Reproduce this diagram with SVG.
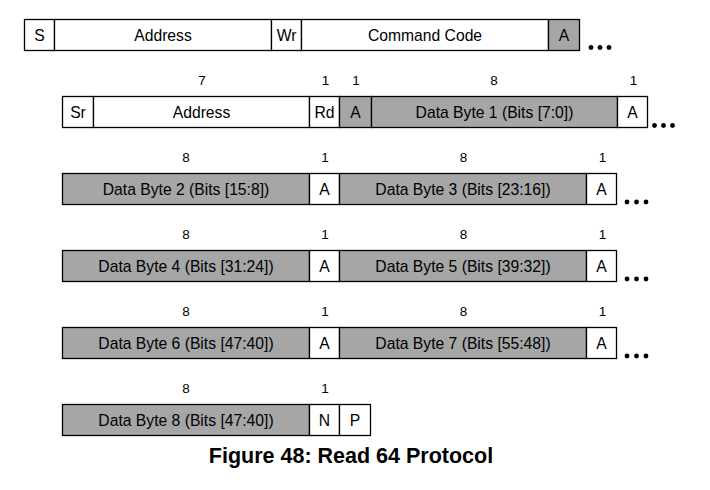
<svg xmlns="http://www.w3.org/2000/svg" width="710" height="490" viewBox="0 0 710 490">
<style>
rect{stroke:#000;stroke-width:1.3}
.w{fill:#fff}
.g{fill:#a6a6a6}
text{font-family:"Liberation Sans",Arial,sans-serif;fill:#000;text-anchor:middle}
.t{font-size:15.7px}
.n{font-size:13.5px}
.title{font-size:21.5px;font-weight:bold}
.dot{fill:#000}
</style>
<rect width="710" height="490" fill="#fff" style="stroke:none"/>
<g id="row1">
<g id="r1-s"><rect class="w" x="24.5" y="19.5" width="30" height="31"/><text class="t" x="39.5" y="40.5">S</text></g>
<g id="r1-addr"><rect class="w" x="54.5" y="19.5" width="217" height="31"/><text class="t" x="163" y="40.5">Address</text></g>
<g id="r1-wr"><rect class="w" x="271.5" y="19.5" width="30" height="31"/><text class="t" x="286.5" y="40.5">Wr</text></g>
<g id="r1-cc"><rect class="w" x="301.5" y="19.5" width="247" height="31"/><text class="t" x="425" y="40.5">Command Code</text></g>
<g id="r1-a"><rect class="g" x="548.5" y="19.5" width="31" height="31"/><text class="t" x="564" y="40.5">A</text></g>
<g id="r1-dots"><circle class="dot" cx="591" cy="47.5" r="2.4"/><circle class="dot" cx="600" cy="47.5" r="2.4"/><circle class="dot" cx="609" cy="47.5" r="2.4"/></g>
</g>
<g id="row2">
<text class="n" x="202" y="85">7</text><text class="n" x="325.5" y="85">1</text><text class="n" x="356" y="85">1</text><text class="n" x="494" y="85">8</text><text class="n" x="633.5" y="85">1</text>
<g id="r2-sr"><rect class="w" x="62.5" y="96.5" width="31" height="31"/><text class="t" x="78" y="117.5">Sr</text></g>
<g id="r2-addr"><rect class="w" x="93.5" y="96.5" width="216" height="31"/><text class="t" x="201.5" y="117.5">Address</text></g>
<g id="r2-rd"><rect class="w" x="309.5" y="96.5" width="30" height="31"/><text class="t" x="324.5" y="117.5">Rd</text></g>
<g id="r2-a"><rect class="g" x="339.5" y="96.5" width="32" height="31"/><text class="t" x="355.5" y="117.5">A</text></g>
<g id="r2-db1"><rect class="g" x="371.5" y="96.5" width="246" height="31"/><text class="t" x="494.5" y="117.5">Data Byte 1 (Bits [7:0])</text></g>
<g id="r2-a2"><rect class="w" x="617.5" y="96.5" width="30" height="31"/><text class="t" x="632.5" y="117.5">A</text></g>
<g id="r2-dots"><circle class="dot" cx="654.5" cy="125.5" r="2.4"/><circle class="dot" cx="663.5" cy="125.5" r="2.4"/><circle class="dot" cx="672.5" cy="125.5" r="2.4"/></g>
</g>
<g id="row3">
<text class="n" x="186" y="162">8</text><text class="n" x="325" y="162">1</text><text class="n" x="463.5" y="162">8</text><text class="n" x="602.5" y="162">1</text>
<g id="r3-db2"><rect class="g" x="62.5" y="173.5" width="247" height="31"/><text class="t" x="186" y="194.5">Data Byte 2 (Bits [15:8])</text></g>
<g id="r3-a"><rect class="w" x="309.5" y="173.5" width="30" height="31"/><text class="t" x="324.5" y="194.5">A</text></g>
<g id="r3-db3"><rect class="g" x="339.5" y="173.5" width="247" height="31"/><text class="t" x="463" y="194.5">Data Byte 3 (Bits [23:16])</text></g>
<g id="r3-a2"><rect class="w" x="586.5" y="173.5" width="30" height="31"/><text class="t" x="601.5" y="194.5">A</text></g>
<g id="r3-dots"><circle class="dot" cx="627" cy="202" r="2.4"/><circle class="dot" cx="636.5" cy="202" r="2.4"/><circle class="dot" cx="646" cy="202" r="2.4"/></g>
</g>
<g id="row4">
<text class="n" x="186" y="239">8</text><text class="n" x="325" y="239">1</text><text class="n" x="463.5" y="239">8</text><text class="n" x="602.5" y="239">1</text>
<g id="r4-db4"><rect class="g" x="62.5" y="250.5" width="247" height="31"/><text class="t" x="186" y="271.5">Data Byte 4 (Bits [31:24])</text></g>
<g id="r4-a"><rect class="w" x="309.5" y="250.5" width="30" height="31"/><text class="t" x="324.5" y="271.5">A</text></g>
<g id="r4-db5"><rect class="g" x="339.5" y="250.5" width="247" height="31"/><text class="t" x="463" y="271.5">Data Byte 5 (Bits [39:32])</text></g>
<g id="r4-a2"><rect class="w" x="586.5" y="250.5" width="30" height="31"/><text class="t" x="601.5" y="271.5">A</text></g>
<g id="r4-dots"><circle class="dot" cx="627" cy="279" r="2.4"/><circle class="dot" cx="636.5" cy="279" r="2.4"/><circle class="dot" cx="646" cy="279" r="2.4"/></g>
</g>
<g id="row5">
<text class="n" x="186" y="316">8</text><text class="n" x="325" y="316">1</text><text class="n" x="463.5" y="316">8</text><text class="n" x="602.5" y="316">1</text>
<g id="r5-db6"><rect class="g" x="62.5" y="327.5" width="247" height="31"/><text class="t" x="186" y="348.5">Data Byte 6 (Bits [47:40])</text></g>
<g id="r5-a"><rect class="w" x="309.5" y="327.5" width="30" height="31"/><text class="t" x="324.5" y="348.5">A</text></g>
<g id="r5-db7"><rect class="g" x="339.5" y="327.5" width="247" height="31"/><text class="t" x="463" y="348.5">Data Byte 7 (Bits [55:48])</text></g>
<g id="r5-a2"><rect class="w" x="586.5" y="327.5" width="30" height="31"/><text class="t" x="601.5" y="348.5">A</text></g>
<g id="r5-dots"><circle class="dot" cx="627" cy="356" r="2.4"/><circle class="dot" cx="636.5" cy="356" r="2.4"/><circle class="dot" cx="646" cy="356" r="2.4"/></g>
</g>
<g id="row6">
<text class="n" x="186" y="393">8</text><text class="n" x="325" y="393">1</text>
<g id="r6-db8"><rect class="g" x="62.5" y="404.5" width="247" height="31"/><text class="t" x="186" y="425.5">Data Byte 8 (Bits [47:40])</text></g>
<g id="r6-n"><rect class="w" x="309.5" y="404.5" width="30" height="31"/><text class="t" x="324.5" y="425.5">N</text></g>
<g id="r6-p"><rect class="w" x="339.5" y="404.5" width="31" height="31"/><text class="t" x="355" y="425.5">P</text></g>
</g>
<g id="connectors"/>
<text class="title" x="351" y="463">Figure 48: Read 64 Protocol</text>
</svg>
